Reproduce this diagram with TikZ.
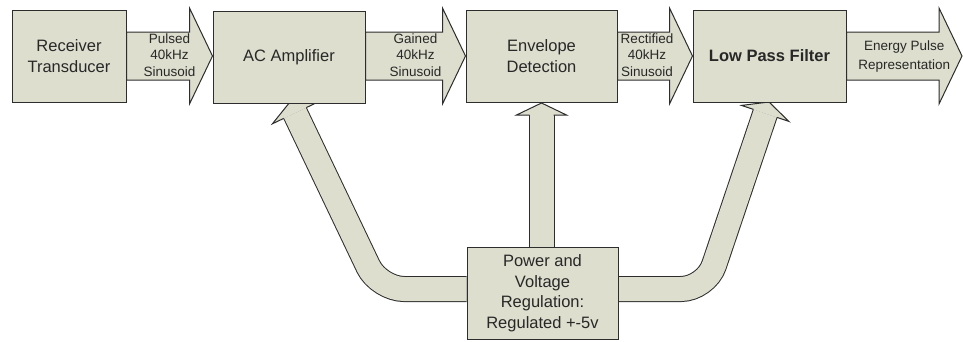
\documentclass[tikz,border=0pt]{standalone}
\usepackage{fontspec}
\setmainfont{Liberation Sans}
\usetikzlibrary{calc}
\definecolor{fillc}{RGB}{221,222,206}
\definecolor{linec}{RGB}{45,45,45}
\definecolor{txtc}{RGB}{40,40,40}
\pgfdeclarelayer{bg}
\pgfsetlayers{bg,main}
\newcommand{\blockarrow}[2]{%
  \draw[harrow] let \p1=#1, \p2=#2 in
    (\x1,\y1+24pt) -- (\x2-23pt,\y1+24pt) -- (\x2-23pt,\y1+48pt) -- (\x2,\y1)
    -- (\x2-23pt,\y1-48pt) -- (\x2-23pt,\y1-24pt) -- (\x1,\y1-24pt) -- cycle;}
\begin{document}
\begin{tikzpicture}[x=1pt,y=-1pt,
  box/.style={draw=linec, fill=fillc, line width=1pt, align=center, text=txtc,
    font=\fontsize{16.5}{21}\selectfont, inner sep=0pt, minimum height=92pt},
  lbl/.style={align=center, text=txtc, font=\fontsize{13.5}{16.5}\selectfont, inner sep=0pt},
  harrow/.style={draw=linec, fill=fillc, line width=1pt, line join=miter},
  shaft/.style={draw=linec, line width=1pt, double=fillc, double distance=24pt, rounded corners=25pt},
  headline/.style={draw=linec, line width=1pt, line join=miter}]
\useasboundingbox (0,0) rectangle (963,341);

% boxes
\node[box, minimum width=114pt] (rt) at (69,56) {Receiver\\Transducer};
\node[box, minimum width=152pt] (ac) at (289,57) {AC Amplifier};
\node[box, minimum width=151pt] (ed) at (541.5,56) {Envelope\\Detection};
\node[box, minimum width=153pt] (lp) at (769.5,56) {\textbf{Low Pass Filter}};
\node[box, minimum width=151pt, font=\fontsize{16.5}{20.5}\selectfont] (pw) at (542.5,293)
  {Power and\\Voltage\\Regulation:\\Regulated +-5v};
\coordinate (out) at (962,56);

% arrows (behind boxes)
\begin{pgfonlayer}{bg}
  \blockarrow{(rt.east)}{(ac.west |- rt.east)}
  \blockarrow{(ac.east |- rt.east)}{(ed.west)}
  \blockarrow{(ed.east)}{(lp.west)}
  \blockarrow{(lp.east)}{(out)}

  % power to AC amplifier
  \coordinate (lc) at (379,289);
  \coordinate (lb) at (295,113);
  \draw[shaft] ($(pw.west)+(0,-4)$) -- (lc) -- (lb);
  \fill[fillc] (272.4,123.8) -- (289.8,102.2) -- (317.6,102.2) -- cycle;
  \draw[headline] (283.7,118.4) -- (272.4,123.8) -- (289.8,102.2) -- (317.6,102.2) -- (306.3,107.6);

  % power to envelope detection
  \coordinate (vb) at (541.5,115);
  \draw[shaft] (pw.north -| vb) -- (vb);
  \fill[fillc] (516.5,115) -- (541.5,103) -- (566.5,115) -- cycle;
  \draw[headline] (529.5,115) -- (516.5,115) -- (541.5,103) -- (566.5,115) -- (553.5,115);

  % power to low pass filter
  \coordinate (rc) at (706,289);
  \coordinate (rb) at (765.2,113.4);
  \draw[shaft] ($(pw.east)+(0,-4)$) -- (rc) -- (rb);
  \fill[fillc] (741.5,105.4) -- (769,102) -- (788.9,121.4) -- cycle;
  \draw[headline] (753.4,109.4) -- (741.5,105.4) -- (769,102) -- (788.9,121.4) -- (777.0,117.4);
\end{pgfonlayer}

% arrow labels
\node[lbl] (l1) at ($(rt.east)!0.5!(ac.west |- rt.east)+(0,-1)$) {Pulsed\\40kHz\\Sinusoid};
\node[lbl] (l2) at ($(ac.east |- rt.east)!0.5!(ed.west)+(0,-1)$) {Gained\\40kHz\\Sinusoid};
\node[lbl] (l3) at ($(ed.east)!0.5!(lp.west)+(-8,-1)$) {Rectified\\40kHz\\Sinusoid};
\node[lbl, font=\fontsize{13.5}{19}\selectfont] (l4) at ($(lp.east)!0.5!(out)+(0,1)$) {Energy Pulse\\Representation};
\end{tikzpicture}
\end{document}
